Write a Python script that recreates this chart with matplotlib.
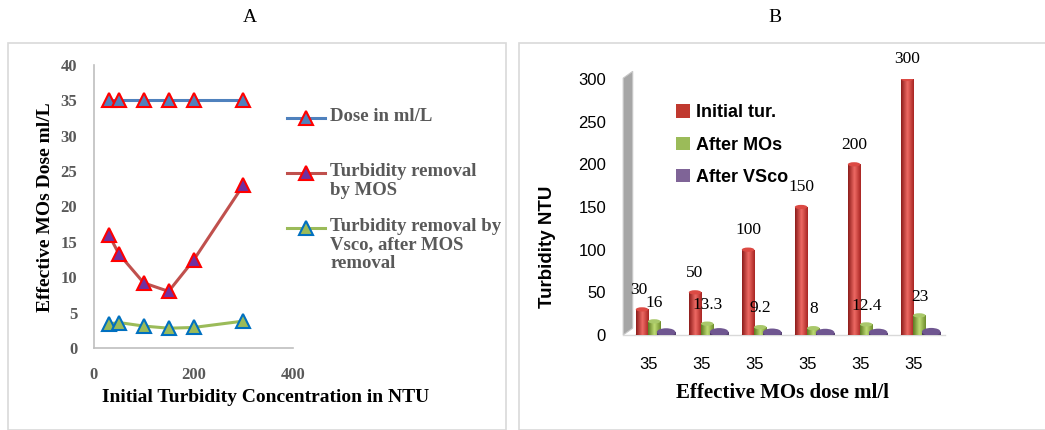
import numpy as np
import matplotlib
matplotlib.use("Agg")
import matplotlib.pyplot as plt
from matplotlib.lines import Line2D
from matplotlib.patches import Rectangle, Ellipse, Polygon
from matplotlib.colors import LinearSegmentedColormap

# ---- data ----
initial_turbidity = [30, 50, 100, 150, 200, 300]
dose_ml_per_l = [35, 35, 35, 35, 35, 35]
after_mos = [16, 13.3, 9.2, 8, 12.4, 23]
after_vsco = [3.4, 3.6, 3.1, 2.8, 2.9, 3.8]
dose_labels = ["35", "35", "35", "35", "35", "35"]

W, H = 1045, 430
fig = plt.figure(figsize=(W / 100, H / 100), dpi=100)
fig.patch.set_facecolor("white")

serif = "Liberation Serif"
sans = "Liberation Sans"
gray_txt = "#595959"


def px(x0, y0, x1, y1):
    """Figure-fraction rect from pixel box (top-left origin)."""
    return [x0 / W, 1 - y1 / H, (x1 - x0) / W, (y1 - y0) / H]


def fx(x):
    return x / W


def fy(y):
    return 1 - y / H


# panel frames
fig.add_artist(Rectangle((fx(8), 0), (506 - 8) / W, fy(43), transform=fig.transFigure,
                         fill=False, edgecolor="#d9d9d9", lw=1.2))
fig.add_artist(Rectangle((fx(519), 0), (W + 10 - 519) / W, fy(43), transform=fig.transFigure,
                         fill=False, edgecolor="#d9d9d9", lw=1.2))

fig.text(fx(250), fy(17), "A", ha="center", va="center", family=serif, fontsize=14)
fig.text(fx(775), fy(17), "B", ha="center", va="center", family=serif, fontsize=14)

# ================= panel A =================
styles = [
    dict(color="#4f81bd", mfc="#4f81bd", mec="#ff0000"),
    dict(color="#c0504d", mfc="#7030a0", mec="#ff0000"),
    dict(color="#9bbb59", mfc="#9bbb59", mec="#0070c0"),
]
axA = fig.add_axes(px(94, 65, 293, 348))
for yvals, st in zip([dose_ml_per_l, after_mos, after_vsco], styles):
    axA.plot(initial_turbidity, yvals, lw=2.2, marker="^", ms=10, mew=1.5,
             clip_on=False, zorder=3, **st)
axA.set_xlim(0, 400)
axA.set_ylim(0, 40)
axA.set_xticks([0, 200, 400])
axA.set_yticks(range(0, 41, 5))
for s in ("top", "right"):
    axA.spines[s].set_visible(False)
for s in ("left", "bottom"):
    axA.spines[s].set_color("#bfbfbf")
    axA.spines[s].set_linewidth(1.2)
axA.tick_params(length=0, labelsize=12, labelcolor=gray_txt)
axA.tick_params(axis="y", pad=12)
axA.tick_params(axis="x", pad=14)
for lab in axA.get_xticklabels() + axA.get_yticklabels():
    lab.set_family(serif)
    lab.set_fontweight("bold")
fig.text(fx(46), fy(207), "Effective MOs Dose ml/L", rotation=90, ha="center", va="center",
         family=serif, fontweight="bold", fontsize=14)
fig.text(fx(266), fy(398), "Initial Turbidity Concentration in NTU", ha="center", va="center",
         family=serif, fontweight="bold", fontsize=14)

# legend for panel A: sample line + triangle, text aligned to its first line
legend_rows = [
    (118, "Dose in ml/L"),
    (173, "Turbidity removal\nby MOS"),
    (228, "Turbidity removal by\nVsco, after MOS\nremoval"),
]
for (ypix, label), st in zip(legend_rows, styles):
    fig.add_artist(Line2D([fx(287), fx(325)], [fy(ypix), fy(ypix)], transform=fig.transFigure,
                          lw=2.2, color=st["color"]))
    fig.add_artist(Line2D([fx(306)], [fy(ypix)], transform=fig.transFigure, lw=0, marker="^",
                          ms=10, mew=1.5, mfc=st["mfc"], mec=st["mec"]))
    fig.text(fx(330), fy(ypix - 10), label, ha="left", va="top", family=serif, fontweight="bold",
             fontsize=13.5, color=gray_txt, linespacing=1.13)

# ================= panel B =================
axB = fig.add_axes(px(620, 79, 945, 335))
for s in axB.spines.values():
    s.set_visible(False)
axB.set_yticks(range(0, 301, 50))
axB.set_xticks(range(len(dose_labels)))
axB.set_xticklabels(dose_labels)
axB.tick_params(length=0, labelsize=12)
axB.tick_params(axis="y", pad=10)
axB.tick_params(axis="x", pad=16)
for lab in axB.get_xticklabels() + axB.get_yticklabels():
    lab.set_family(sans)

# back wall and floor
axB.add_patch(Polygon([(-0.47, 301), (-0.29, 309), (-0.29, 8), (-0.47, 0)], closed=True,
                      facecolor="#a6a6a6", edgecolor="#c8c8c8", lw=0.8, clip_on=False, zorder=0))
axB.plot([-0.47, 5.6], [0, 0], color="#d9d9d9", lw=1.0, clip_on=False, zorder=0)

x = np.arange(len(initial_turbidity))
series = [
    (x - 0.115, initial_turbidity, 0.235, ("#8c1c1a", "#ee6a64", "#a82522"), "#dc4a44", 5.0),
    (x + 0.115, after_mos, 0.235, ("#5d7a22", "#bfdc74", "#6d8c2c"), "#a9c86a", 5.0),
    (x + 0.34, after_vsco, 0.35, ("#4b3563", "#8a70a8", "#54406e"), "#6f5690", 9.0),
]
grad_img = np.linspace(0, 1, 64).reshape(1, -1)
for xs, vals, w, cols, topc, cap in series:
    cmap = LinearSegmentedColormap.from_list("cyl", [cols[0], cols[1], cols[2]])
    bars = axB.bar(xs, vals, width=w, color=cols[2], edgecolor="none", zorder=3)
    for b, xc, v in zip(bars, xs, vals):
        im = axB.imshow(grad_img, cmap=cmap, aspect="auto", zorder=3,
                        extent=(xc - w / 2, xc + w / 2, 0, v), interpolation="bilinear")
        im.set_clip_path(b)
        axB.add_patch(Ellipse((xc, v), w, cap, facecolor=topc, edgecolor="none", zorder=4))
        axB.add_patch(Ellipse((xc, 0), w, cap, facecolor=cols[2], edgecolor="none", zorder=2.9))
axB.set_xlim(-0.53, 5.60)
axB.set_ylim(0, 300)

# value labels
for i, v in enumerate(initial_turbidity):
    dx = -0.06 if i == 0 else 0.0
    axB.text(i - 0.115 + dx, v + 23, str(v), ha="center", va="center", family=serif, fontsize=12.5,
             clip_on=False, zorder=5)
for i, v in enumerate(after_mos):
    axB.text(i + 0.12, v + 22, f"{v:g}", ha="center", va="center", family=serif, fontsize=12.5,
             clip_on=False, zorder=5)

fig.text(fx(548), fy(247), "Turbidity NTU", rotation=90, ha="center", va="center",
         family=sans, fontweight="bold", fontsize=13.5)
fig.text(fx(782), fy(393), "Effective MOs dose ml/l", ha="center", va="center",
         family=serif, fontweight="bold", fontsize=15)

hB = [Rectangle((0, 0), 1, 1, facecolor=c) for c in ("#c0392f", "#9bbb59", "#7f6497")]
fig.legend(hB, ["Initial tur.", "After MOs", "After VSco"], loc="upper left",
           bbox_to_anchor=(fx(660), fy(88)), frameon=False, handlelength=0.75, handleheight=0.75,
           handletextpad=0.35, labelspacing=0.85, prop={"family": sans, "weight": "bold", "size": 13})

fig.savefig("out.png", dpi=100, facecolor="white")
